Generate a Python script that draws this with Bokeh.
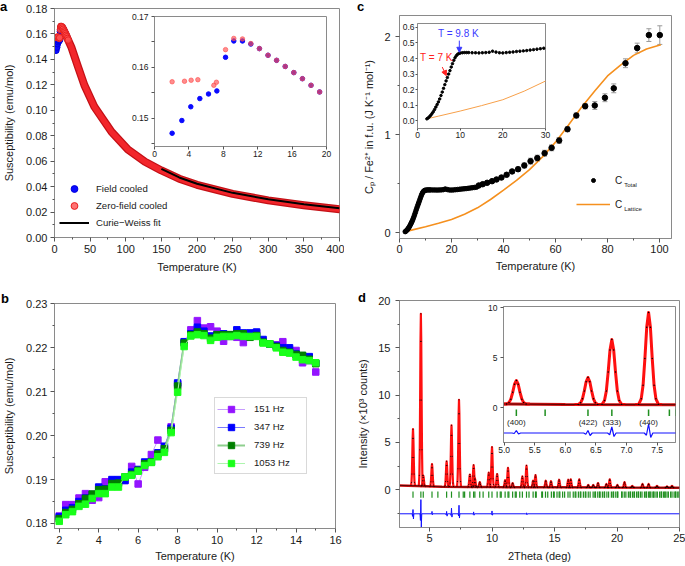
import numpy as np
from bokeh.plotting import figure
from bokeh.models import (Range1d, FixedTicker, NumeralTickFormatter, Legend, LegendItem,
                          Label, Arrow, NormalHead, Whisker, TeeHead, ColumnDataSource, Div, Column)
from bokeh.core.properties import value
from bokeh.embed import file_html
from bokeh.resources import INLINE

FONT = "Liberation Sans"
PAGE_MARGIN = 0

# ===================== DATA =====================
# (a) dc susceptibility
a_fc_T = [2.05, 3.18, 4.22, 5.27, 6.28, 7.25, 8.26, 9.22, 10.23, 11.2, 12.2, 13.2, 14.2, 15.2, 16.2, 17.2, 18.2, 19.2]
a_fc_chi = [0.1471, 0.1496, 0.1523, 0.1539, 0.1548, 0.1554, 0.1620, 0.1652, 0.1652, 0.1646, 0.1637, 0.1624,
            0.1614, 0.1602, 0.1590, 0.1578, 0.1565, 0.1552]
a_zfc_T = [2.05, 3.49, 4.26, 5.04, 6.9, 7.2, 8.26, 9.22, 10.23, 11.2, 12.2, 13.2, 14.2, 15.2, 16.2, 17.2, 18.2, 19.2]
a_zfc_chi = [0.1572, 0.1573, 0.1575, 0.1576, 0.1565, 0.1571, 0.1635, 0.1657, 0.1656, 0.1647, 0.1637, 0.1624,
             0.1614, 0.1602, 0.1590, 0.1578, 0.1565, 0.1552]
a_T = [9.2, 10.2, 12.2, 14.2, 16.2, 19.2, 23.5, 33, 42, 56, 80, 103, 127, 150, 175, 200, 250, 300, 350, 400]
a_chi = [0.1657, 0.1656, 0.1637, 0.1614, 0.1590, 0.1552, 0.1499, 0.1342, 0.1197, 0.1027, 0.0831, 0.0692,
         0.0595, 0.0527, 0.0462, 0.0414, 0.0343, 0.0292, 0.0254, 0.0222]
cw_T = [150, 175, 200, 250, 300, 350, 400]
cw_chi = [0.0540, 0.0472, 0.0422, 0.0351, 0.0300, 0.0261, 0.0230]
a_xticks = [0, 50, 100, 150, 200, 250, 300, 350, 400]
a_xminor = [25, 75, 125, 175, 225, 275, 325, 375]
a_yticks = [0.0, 0.02, 0.04, 0.06, 0.08, 0.10, 0.12, 0.14, 0.16, 0.18]
a_yminor = [0.01, 0.03, 0.05, 0.07, 0.09, 0.11, 0.13, 0.15, 0.17]
a_in_xticks = [0, 4, 8, 12, 16, 20]
a_in_yticks = [0.15, 0.16, 0.17]
a_in_yminor = [0.145, 0.155, 0.165]

# (b) ac susceptibility
b_T = [2.0, 2.33, 2.67, 3.0, 3.33, 3.67, 4.0, 4.33, 4.67, 5.0, 5.33, 5.67, 6.0, 6.33, 6.67, 7.0, 7.33, 7.67,
       8.0, 8.33, 8.67, 9.0, 9.33, 9.67, 10.0, 10.33, 10.67, 11.0, 11.33, 11.67, 12.0, 12.33, 12.67, 13.0,
       13.33, 13.67, 14.0, 14.33, 14.67, 15.0]
b_151 = [0.1817, 0.1843, 0.1843, 0.1858, 0.1868, 0.1853, 0.1859, 0.1895, 0.1885, 0.1893, 0.1898, 0.1930,
         0.1890, 0.1928, 0.1957, 0.1990, 0.1972, 0.2020, 0.2117, 0.2212, 0.2241, 0.2262, 0.2245, 0.2248,
         0.2238, 0.2215, 0.2226, 0.2224, 0.2212, 0.2230, 0.2234, 0.2214, 0.2209, 0.2207, 0.2214, 0.2195,
         0.2194, 0.2166, 0.2171, 0.2145]
b_347 = [0.1815, 0.1830, 0.1836, 0.1850, 0.1858, 0.1866, 0.1883, 0.1879, 0.1900, 0.1900, 0.1898, 0.1917,
         0.1923, 0.1940, 0.1941, 0.1961, 0.1976, 0.2017, 0.2120, 0.2214, 0.2232, 0.2247, 0.2238, 0.2227,
         0.2230, 0.2232, 0.2230, 0.2241, 0.2234, 0.2234, 0.2236, 0.2219, 0.2209, 0.2205, 0.2200, 0.2200,
         0.2186, 0.2181, 0.2180, 0.2165]
b_739 = [0.1811, 0.1825, 0.1832, 0.1845, 0.1857, 0.1867, 0.1877, 0.1878, 0.1891, 0.1892, 0.1906, 0.1912,
         0.1921, 0.1936, 0.1940, 0.1958, 0.1970, 0.2012, 0.2113, 0.2211, 0.2230, 0.2236, 0.2232, 0.2222,
         0.2230, 0.2230, 0.2230, 0.2232, 0.2232, 0.2224, 0.2228, 0.2213, 0.2209, 0.2203, 0.2194, 0.2190,
         0.2185, 0.2183, 0.2174, 0.2164]
b_1053 = [0.1805, 0.1820, 0.1827, 0.1839, 0.1844, 0.1857, 0.1868, 0.1868, 0.1883, 0.1883, 0.1906, 0.1910,
          0.1919, 0.1932, 0.1939, 0.1952, 0.1962, 0.2007, 0.2099, 0.2203, 0.2227, 0.2230, 0.2228, 0.2217,
          0.2224, 0.2226, 0.2226, 0.2228, 0.2226, 0.2226, 0.2226, 0.2211, 0.2209, 0.2200, 0.2190, 0.2188,
          0.2179, 0.2173, 0.2171, 0.2166]
b_labels = ["151 Hz", "347 Hz", "739 Hz", "1053 Hz"]
b_xticks = [2, 4, 6, 8, 10, 12, 14, 16]
b_xminor = [3, 5, 7, 9, 11, 13, 15]
b_yticks = [0.18, 0.19, 0.20, 0.21, 0.22, 0.23]
b_yminor = [0.185, 0.195, 0.205, 0.215, 0.225]

# (c) heat capacity
c_T_low = [2.2, 2.5, 2.8, 3.1, 3.4, 3.7, 4.0, 4.3, 4.6, 4.9, 5.2, 5.5, 5.8, 6.1, 6.4, 6.7, 7.0, 7.3, 7.6, 7.9,
           8.2, 8.5, 8.8, 9.1, 9.4, 9.7, 10.0, 10.5, 11.0, 11.5, 12.0, 12.8, 13.6, 14.4, 15.2, 16.0, 16.8,
           17.6, 18.4, 19.2, 20.0, 20.8, 21.6, 22.4, 23.2, 24.0, 24.8, 25.6, 26.4, 27.2, 28.0, 28.8, 29.6]
c_low = [0.012, 0.018, 0.026, 0.035, 0.046, 0.058, 0.072, 0.088, 0.104, 0.121, 0.140, 0.162, 0.184, 0.208,
         0.232, 0.256, 0.278, 0.300, 0.322, 0.345, 0.367, 0.388, 0.405, 0.418, 0.427, 0.432, 0.435, 0.437,
         0.438, 0.438, 0.438, 0.437, 0.437, 0.436, 0.437, 0.438, 0.440, 0.447, 0.441, 0.437, 0.436, 0.438,
         0.440, 0.442, 0.445, 0.447, 0.449, 0.451, 0.454, 0.457, 0.460, 0.463, 0.466]
c_T_hi = [30.5, 32.0, 33.7, 35.6, 37.3, 39.2, 41.2, 43.3, 45.6, 48.0, 50.4, 53.0, 55.8, 58.5, 61.4, 64.6,
          68.0, 71.4, 75.1, 79.0, 82.4, 86.9, 91.4, 95.9, 100.1]
c_hi = [0.483, 0.496, 0.510, 0.527, 0.544, 0.564, 0.592, 0.626, 0.649, 0.687, 0.731, 0.762, 0.812, 0.867,
        0.942, 1.057, 1.197, 1.292, 1.299, 1.378, 1.474, 1.730, 1.885, 2.017, 2.017]
c_err = [0.006, 0.008, 0.008, 0.010, 0.012, 0.015, 0.018, 0.020, 0.022, 0.025, 0.030, 0.030, 0.030, 0.030,
         0.030, 0.025, 0.025, 0.028, 0.040, 0.040, 0.045, 0.045, 0.050, 0.065, 0.095]
c_lat_T = [2.2, 5, 10, 15, 20, 25, 30, 35, 40, 45, 50, 55, 60, 65, 70, 75, 80, 85, 90, 95, 100.5]
c_lat = [0.012, 0.030, 0.062, 0.097, 0.135, 0.190, 0.255, 0.340, 0.435, 0.535, 0.645, 0.775, 0.925, 1.100,
         1.280, 1.445, 1.600, 1.710, 1.810, 1.875, 1.918]
c_xticks = [0, 20, 40, 60, 80, 100]
c_xminor = [10, 30, 50, 70, 90]
c_yticks = [0, 1, 2]
c_yminor = [0.5, 1.5]
c_in_xticks = [0, 10, 20, 30]
c_in_yticks = [0.0, 0.1, 0.2, 0.3, 0.4, 0.5, 0.6]

# (d) powder diffraction
d_peak_pos = [3.68, 4.31, 4.50, 5.20, 6.37, 6.76, 7.36, 8.23, 8.53, 8.63, 9.02, 9.74, 10.00, 10.41, 11.05,
              11.28, 11.65, 12.43, 12.76, 13.29, 13.48, 14.30, 14.72, 15.37, 16.10, 16.30, 16.98, 17.70,
              18.10, 18.48, 19.15, 19.42, 20.03, 20.60, 21.22, 22.04, 22.53, 23.20, 24.00, 24.40]
d_peak_top = [6.4, 18.6, 1.5, 2.7, 3.0, 6.8, 9.5, 1.6, 2.6, 1.2, 0.8, 1.8, 4.5, 1.65, 1.0,
              2.3, 0.7, 1.4, 2.55, 0.95, 1.55, 0.95, 0.9, 1.05, 1.05, 1.1, 1.1, 0.5,
              0.5, 0.7, 0.6, 1.1, 0.5, 0.8, 0.4, 0.6, 0.6, 0.4, 0.35, 0.4]
d_bg_x = [2.6, 4.0, 6.0, 8.0, 10.0, 15.0, 20.0, 25.0]
d_bg_y = [0.45, 0.40, 0.30, 0.28, 0.27, 0.25, 0.22, 0.20]
d_bragg = [3.68, 4.31, 4.50, 5.20, 5.67, 6.37, 6.76, 7.36, 7.70, 7.81, 8.23, 8.53, 8.63, 9.02, 9.29, 9.74,
           10.00, 10.41, 10.66, 10.74, 11.05, 11.28, 11.35, 11.65, 11.86, 11.94, 12.22, 12.43, 12.76, 12.96,
           13.29, 13.48, 13.54, 13.98, 14.04, 14.28, 14.46, 14.75, 14.92, 14.98, 15.20, 15.37, 15.43, 15.65,
           15.81, 16.08, 16.24, 16.50, 16.65, 16.71, 16.91, 17.06, 17.11, 17.31, 17.46, 17.51, 17.70, 17.85,
           18.09, 18.23, 18.28, 18.46, 18.60, 18.65, 18.83, 18.97, 19.01, 19.19, 19.33, 19.55, 19.68, 19.73,
           19.90, 20.03, 20.07, 20.37, 20.41, 20.58, 20.71, 20.91, 21.04, 21.08, 21.24, 21.36, 21.40, 21.57,
           21.69, 21.73, 21.88, 22.00, 22.20, 22.32, 22.35, 22.51, 22.62, 22.66, 22.81, 22.93, 22.96, 23.12,
           23.23, 23.41, 23.53, 23.56, 23.71, 23.82, 23.86, 24.00, 24.11, 24.29, 24.40, 24.57, 24.68, 24.71,
           24.86, 24.96]
d_diff_pos = [3.68, 4.31, 5.20, 6.37, 6.76, 7.36, 8.53, 10.00, 12.76]
d_diff_up = [0.45, 1.5, 0.25, 0.25, 0.6, 0.9, 0.2, 0.3, 0.1]
d_diff_dn = [0.55, 1.4, 0.1, 0.25, 0.35, 0.45, 0.15, 0.15, 0.1]
d_diff_base = -2.55
d_hkl = ["(400)", "(422)", "(333)", "(440)"]
d_hkl_pos = [5.20, 6.37, 6.76, 7.36]
d_xticks = [5, 10, 15, 20, 25]
d_xminor = [2.5, 7.5, 12.5, 17.5, 22.5]
d_yticks = [0, 5, 10, 15, 20]
d_yminor = [-2.5, 2.5, 7.5, 12.5, 17.5]
d_in_xticks = [5.0, 5.5, 6.0, 6.5, 7.0, 7.5]
d_in_yticks = [0, 5, 10]

# peak shape template (style of the drawn profile)
SHAPE_DX = [-0.22, -0.16, -0.12, -0.09, -0.06, -0.03, 0.0, 0.03, 0.06, 0.09, 0.12, 0.16, 0.22]
SHAPE_F = [0.0, 0.005, 0.063, 0.21, 0.5, 0.84, 1.0, 0.84, 0.5, 0.21, 0.063, 0.005, 0.0]
WIG_DX = [-0.07, -0.035, 0.0, 0.035, 0.07]


# ===================== HELPERS =====================
def place(px, py):
    return {"position": "absolute", "left": f"{px - PAGE_MARGIN}px", "top": f"{py - PAGE_MARGIN}px"}


def make_fig(px, py, fw, fh, bl, bt, br, bb, xr, yr):
    p = figure(width=bl + fw + br, height=bt + fh + bb, frame_width=fw, frame_height=fh, title=None,
               x_range=Range1d(*xr), y_range=Range1d(*yr),
               output_backend="svg", toolbar_location=None, frame_align=False,
               min_border_left=bl, min_border_right=br, min_border_top=bt, min_border_bottom=bb,
               styles=place(px, py))
    p.grid.visible = False
    p.outline_line_color = "#8a8a8a"
    p.outline_line_width = 1
    p.background_fill_color = "#ffffff"
    p.border_fill_alpha = 0.0
    return p


def style_axes(p, fs_tick="11px", fs_lab="11px", tick_out=4, minor_out=2, lab_sx=3, lab_sy=3,
               ax_sx=5, ax_sy=7):
    for ax in list(p.xaxis) + list(p.yaxis):
        ax.axis_line_color = "#8a8a8a"
        ax.major_tick_line_color = "#555555"
        ax.minor_tick_line_color = "#555555"
        ax.major_tick_out = tick_out
        ax.major_tick_in = 0
        ax.minor_tick_out = minor_out
        ax.minor_tick_in = 0
        ax.major_label_text_font = FONT
        ax.major_label_text_font_size = fs_tick
        ax.major_label_text_color = "#1a1a1a"
        ax.axis_label_text_font = FONT
        ax.axis_label_text_font_size = fs_lab
        ax.axis_label_text_font_style = "normal"
        ax.axis_label_text_color = "#1a1a1a"
    p.xaxis.major_label_standoff = lab_sx
    p.yaxis.major_label_standoff = lab_sy
    p.xaxis.axis_label_standoff = ax_sx
    p.yaxis.axis_label_standoff = ax_sy


def ticks(axis, major, minor=None, fmt=None):
    axis.ticker = FixedTicker(ticks=major, minor_ticks=minor or [])
    if fmt:
        axis.formatter = NumeralTickFormatter(format=fmt)


def letter(ch, px, py):
    return Div(text=f'<span style="font-family:{FONT};font-size:13px;font-weight:bold;line-height:13px;color:#000">{ch}</span>',
               width=14, height=14, margin=0,
               styles={**place(px, py), "font-size": "13px", "line-height": "13px"})


# ===================== PANEL a =====================
pa = make_fig(0, 0, 285, 229, 50, 8, 5, 45, (0, 400), (0, 0.18))
pa.xaxis.axis_label = "Temperature (K)"
pa.yaxis.axis_label = "Susceptibility (emu/mol)"
style_axes(pa, ax_sx=5, ax_sy=8)
ticks(pa.xaxis, a_xticks, a_xminor)
ticks(pa.yaxis, a_yticks, a_yminor, "0.00")

r_fc = pa.scatter(a_fc_T, a_fc_chi, size=6.5, fill_color="#0a0aff", line_color="#0000dd")
pa.line(a_T, a_chi, line_color="#c41016", line_width=8, line_cap="round", line_join="round")
pa.line(a_T, a_chi, line_color="#f2262b", line_width=5.5, line_cap="round", line_join="round")
r_zfc = pa.scatter(a_zfc_T, a_zfc_chi, size=6.5, fill_color="#ff5050", fill_alpha=0.8,
                   line_color="#e82020")
r_cw = pa.line(cw_T, cw_chi, line_color="#000000", line_width=2)
leg_a = Legend(items=[LegendItem(label="Field cooled", renderers=[r_fc]),
                      LegendItem(label="Zero-field cooled", renderers=[r_zfc]),
                      LegendItem(label="Curie\u2212Weiss fit", renderers=[r_cw])],
               location=(5, 6), glyph_width=30, glyph_height=17, label_height=14, spacing=0,
               label_standoff=7, padding=0, margin=0, border_line_alpha=0, background_fill_alpha=0,
               label_text_font=FONT, label_text_font_size="9.6px", label_text_color="#1a1a1a")
pa.add_layout(leg_a)

ia = make_fig(126, 9, 172, 130, 28, 7, 6, 18, (0, 20), (0.1445, 0.17))
style_axes(ia, fs_tick="8.5px", tick_out=3, minor_out=3, lab_sx=1, lab_sy=3)
ticks(ia.xaxis, a_in_xticks)
ticks(ia.yaxis, a_in_yticks, a_in_yminor, "0.00")
ia.scatter(a_fc_T, a_fc_chi, size=4.5, fill_color="#0a0aff", line_color="#0a0aff")
ia.scatter(a_zfc_T, a_zfc_chi, size=4.5, fill_color="#ff5050", fill_alpha=0.65,
           line_color="#ff5050", line_alpha=0.65)

# ===================== PANEL b =====================
pb = make_fig(0, 285, 281, 225, 49, 18, 10, 38, (1.76, 16.0), (0.17886, 0.2301))
pb.xaxis.axis_label = "Temperature (K)"
pb.yaxis.axis_label = "Susceptibility (emu/mol)"
style_axes(pb, ax_sx=3, ax_sy=8)
ticks(pb.xaxis, b_xticks, b_xminor)
ticks(pb.yaxis, b_yticks, b_yminor, "0.00")
b_series = [b_151, b_347, b_739, b_1053]
b_line_cols = ["#c79cff", "#7a7aff", "#8fcf8f", "#aef5ae"]
b_line_w = [1, 1, 2, 1]
b_mark_cols = ["#9414ff", "#0000ff", "#007f00", "#19ff19"]
b_items = []
for lab, ys, lc, lw, mc in zip(b_labels, b_series, b_line_cols, b_line_w, b_mark_cols):
    rl = pb.line(b_T, ys, line_color=lc, line_width=lw)
    rs = pb.scatter(b_T, ys, marker="square", size=6.5, fill_color=mc, line_color=mc)
    b_items.append(LegendItem(label=lab, renderers=[rl, rs]))
leg_b = Legend(items=b_items, location=(160, 54), glyph_width=28, glyph_height=16, label_height=17,
               spacing=1, label_standoff=9, label_width=50, padding=2, margin=0,
               border_line_color="#b4b4b4", border_line_width=1, background_fill_color="#ffffff",
               label_text_font=FONT, label_text_font_size="9.6px", label_text_color="#1a1a1a")
pb.add_layout(leg_b)

# ===================== PANEL c =====================
pc = make_fig(345, 0, 272, 223, 54, 15, 14, 44, (0, 104.6), (-0.058, 2.217))
pc.xaxis.axis_label = "Temperature (K)"
pc.yaxis.axis_label = "C\u209a / Fe\u00b2\u207a in f.u. (J K\u207b\u00b9 mol\u207b\u00b9)"
style_axes(pc, lab_sx=2, lab_sy=5, ax_sx=4, ax_sy=6)
ticks(pc.xaxis, c_xticks, c_xminor)
ticks(pc.yaxis, c_yticks, c_yminor)
src_hi = ColumnDataSource(dict(T=c_T_hi, cp=c_hi,
                               lo=[v - e for v, e in zip(c_hi, c_err)],
                               up=[v + e for v, e in zip(c_hi, c_err)]))
pc.add_layout(Whisker(source=src_hi, base="T", lower="lo", upper="up", line_color="#9a9a9a",
                      line_width=1,
                      lower_head=TeeHead(size=5, line_color="#9a9a9a", line_width=1),
                      upper_head=TeeHead(size=5, line_color="#9a9a9a", line_width=1)))
r_lat = pc.line(c_lat_T, c_lat, line_color="#f5901e", line_width=1.6)
r_tot = pc.scatter(c_T_low, c_low, size=4.5, fill_color="#000000", line_color="#000000")
pc.scatter("T", "cp", source=src_hi, size=5.5, fill_color="#000000", line_color="#000000")
leg_c = Legend(items=[LegendItem(label="C", renderers=[r_tot]),
                      LegendItem(label="C", renderers=[r_lat])],
               location=(177, 22), glyph_width=34, glyph_height=10, label_height=24, spacing=0,
               label_standoff=5, padding=0, margin=0, border_line_alpha=0, background_fill_alpha=0,
               label_text_font=FONT, label_text_font_size="10px", label_text_color="#1a1a1a")
pc.add_layout(leg_c)
for txt, yv in (("Total", 0.483), ("Lattice", 0.243)):
    pc.add_layout(Label(x=86.4, y=yv, text=txt, text_font=FONT, text_font_size="6px",
                        text_baseline="middle", text_color="#1a1a1a"))

ic = make_fig(395, 15, 128, 105, 22, 8, 7, 19, (0, 30), (-0.05, 0.625))
style_axes(ic, fs_tick="8.5px", tick_out=2, lab_sx=1, lab_sy=1)
ticks(ic.xaxis, c_in_xticks)
ticks(ic.yaxis, c_in_yticks, None, "0.0")
ic.line(c_lat_T, c_lat, line_color="#f7a04a", line_width=1)
ic.scatter(c_T_low, c_low, size=2.5, fill_color="#000000", line_color="#000000")
ic.add_layout(Label(x=4.8, y=0.562, text="T = 9.8 K", text_font=FONT, text_font_size="10px",
                    text_baseline="middle", text_color="#3a3aff"))
ic.add_layout(Arrow(x_start=9.8, y_start=0.515, x_end=9.8, y_end=0.44, line_color="#3a3aff",
                    line_width=1, end=NormalHead(size=5, fill_color="#3a3aff", line_color="#3a3aff")))
ic.add_layout(Label(x=0.6, y=0.405, text="T = 7 K", text_font=FONT, text_font_size="10px",
                    text_baseline="middle", text_color="#ff2020"))
ic.add_layout(Arrow(x_start=5.8, y_start=0.345, x_end=6.75, y_end=0.29, line_color="#ff2020",
                    line_width=1, end=NormalHead(size=5, fill_color="#ff2020", line_color="#ff2020")))

# ===================== PANEL d =====================
def bg_at(x):
    return float(np.interp(x, d_bg_x, d_bg_y))


peak_xs, peak_ys, obs_x, obs_y = [], [], [], []
for pos, top in zip(d_peak_pos, d_peak_top):
    b0 = bg_at(pos)
    xs = [pos + dx for dx in SHAPE_DX]
    ys = [b0 + f * (top - b0) for f in SHAPE_F]
    peak_xs.append(xs)
    peak_ys.append(ys)
    obs_x.extend(xs[1:-1])
    obs_y.extend(ys[1:-1])

diff_x, diff_y = [d_bg_x[0]], [d_diff_base]
for pos, up, dn in zip(d_diff_pos, d_diff_up, d_diff_dn):
    offs = [0.0, -0.5 * dn, up, -dn, 0.0]
    for dx, o in zip(WIG_DX, offs):
        diff_x.append(pos + dx)
        diff_y.append(d_diff_base + o)
diff_x.append(d_bg_x[-1])
diff_y.append(d_diff_base)


def draw_xrd(p, lw_peak, lw_bg, obs_size, tick_w, diff_w):
    p.segment(x0=d_bragg, y0=[-0.2] * len(d_bragg), x1=d_bragg, y1=[-0.85] * len(d_bragg),
              line_color="#1f8f1f", line_width=tick_w)
    p.line(diff_x, diff_y, line_color="#1010ff", line_width=diff_w)
    p.line(d_bg_x, d_bg_y, line_color="#d01010", line_width=lw_bg)
    p.multi_line(peak_xs, peak_ys, line_color="#ff1010", line_width=lw_peak, line_join="round")
    p.line(d_bg_x, d_bg_y, line_color="#300000", line_width=0.9, line_alpha=0.8)
    p.scatter(obs_x, obs_y, marker="dot", size=obs_size, line_color="#000000", fill_color="#000000")


pd_ = make_fig(345, 285, 280, 227, 54, 15, 6, 39, (2.6, 25.0), (-4.0, 20.0))
pd_.xaxis.axis_label = "2Theta (deg)"
pd_.yaxis.axis_label = "Intensity (\u00d710\u00b3 counts)"
style_axes(pd_, lab_sx=2, lab_sy=5, ax_sx=5, ax_sy=6)
ticks(pd_.xaxis, d_xticks, d_xminor)
ticks(pd_.yaxis, d_yticks, d_yminor)
draw_xrd(pd_, 2.2, 2.5, 4, 1.2, 1)

idd = make_fig(478, 298, 172, 136, 25, 8, 6, 18, (4.99, 7.8), (-3.5, 10.1))
style_axes(idd, fs_tick="8.5px", tick_out=3, lab_sx=1, lab_sy=3)
ticks(idd.xaxis, d_in_xticks, None, "0.0")
ticks(idd.yaxis, d_in_yticks)
draw_xrd(idd, 3.0, 3.0, 6, 1.5, 1.2)
idd.text(x=d_hkl_pos, y=[-1.5] * len(d_hkl_pos), text=d_hkl, text_font=value(FONT),
         text_font_size="8px", text_align="center", text_baseline="middle", text_color="#1a1a1a")

# ===================== LAYOUT =====================
letters = [letter("a", 0, 0), letter("b", 1, 291.7), letter("c", 357, 0), letter("d", 358, 290.7)]
root = Column(children=[pa, pb, pc, pd_, ia, ic, idd] + letters, width=669, height=550,
              styles={"position": "relative"})

open("out.html", "w").write(file_html(root, INLINE))
